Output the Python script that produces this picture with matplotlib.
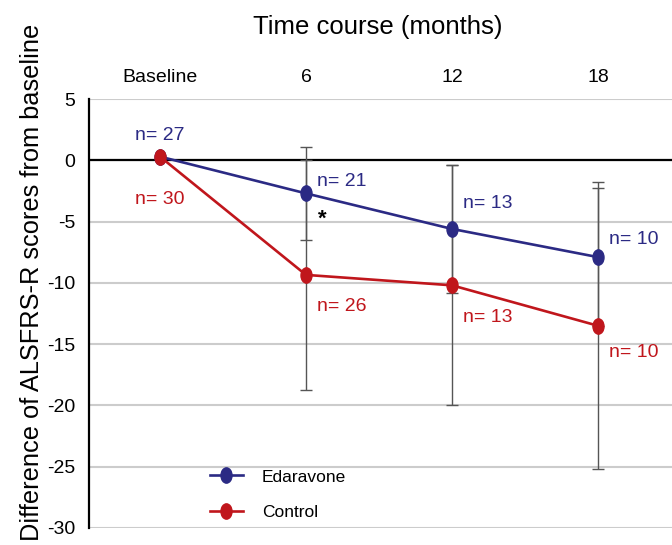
import numpy as np
import matplotlib.pyplot as plt
from matplotlib.markers import MarkerStyle
from matplotlib.transforms import Affine2D

plt.rcParams['font.family'] = ['Liberation Sans', 'DejaVu Sans']
plt.rcParams['axes.unicode_minus'] = False

# ======= data =======
timepoints = ['Baseline', '6', '12', '18']
edaravone_mean = [0.3, -2.7, -5.6, -7.9]
edaravone_sd = [0.0, 3.8, 5.2, 5.6]
control_mean = [0.3, -9.35, -10.2, -13.5]
control_sd = [0.0, 9.4, 9.8, 11.7]
edaravone_n = [27, 21, 13, 10]
control_n = [30, 26, 13, 10]

blue = '#2b2a84'
red = '#c0161c'
x = np.arange(len(timepoints))

fig = plt.figure(figsize=(6.72, 5.45), dpi=100)
ax = fig.add_axes([89 / 672, 1 - 528 / 545, 1 - 89 / 672, (528 - 99) / 545])

# grid
for yv in range(-30, 6, 5):
    ax.axhline(yv, color='#cccccc', lw=1.5, zorder=0)
ax.axhline(0, color='black', lw=1.6, zorder=1)

ell = MarkerStyle('o', transform=Affine2D().scale(0.72, 1.0))

# error bars (skip baseline)
ax.errorbar(x[1:], edaravone_mean[1:], yerr=edaravone_sd[1:], fmt='none',
            ecolor='#555555', elinewidth=1.0, capsize=4.5, capthick=1.0, zorder=2)
ax.errorbar(x[1:], control_mean[1:], yerr=control_sd[1:], fmt='none',
            ecolor='#555555', elinewidth=1.0, capsize=4.5, capthick=1.0, zorder=2)

ax.plot(x, edaravone_mean, color=blue, lw=1.9, marker=ell, ms=11,
        label='Edaravone', zorder=3)
ax.plot(x, control_mean, color=red, lw=1.9, marker=ell, ms=11,
        label='Control', zorder=4)

# n labels
fs = 14
ax.text(0, 2.0, 'n= %d' % edaravone_n[0], color=blue, fontsize=fs, ha='center', va='center')
ax.text(0, -3.2, 'n= %d' % control_n[0], color=red, fontsize=fs, ha='center', va='center')
blue_lab_y = [-1.7, -3.5, -6.5]
red_lab_y = [-11.9, -12.8, -15.7]
for i in range(1, 4):
    ax.text(x[i] + 0.075, blue_lab_y[i - 1], 'n= %d' % edaravone_n[i], color=blue,
            fontsize=fs, ha='left', va='center')
    ax.text(x[i] + 0.075, red_lab_y[i - 1], 'n= %d' % control_n[i], color=red,
            fontsize=fs, ha='left', va='center')
ax.text(1.115, -4.8, '*', fontsize=16, fontweight='bold', ha='center', va='center',
        color='black')

ax.set_xlim(-0.486, 3.507)
ax.set_ylim(-30, 5)
ax.set_yticks(range(-30, 6, 5))
ax.set_xticks(x)
ax.set_xticklabels(timepoints)
ax.xaxis.tick_top()
ax.tick_params(axis='x', length=0, pad=9, labelsize=14)
ax.tick_params(axis='y', length=0, pad=10, labelsize=14)
for s in ['top', 'right', 'bottom']:
    ax.spines[s].set_visible(False)
ax.spines['left'].set_linewidth(1.6)
ax.spines['left'].set_zorder(5)

leg = ax.legend(loc='center left', bbox_to_anchor=(0.2075, 0.078), frameon=False,
                fontsize=12.5, handlelength=1.9, handletextpad=1.1,
                labelspacing=1.15, borderpad=0, borderaxespad=0)

fig.text(378 / 672, 1 - 27 / 545, 'Time course (months)', fontsize=18.5,
         ha='center', va='center')
fig.text(32 / 672, 1 - 282 / 545, 'Difference of ALSFRS-R scores from baseline',
         fontsize=18.3, rotation=90, ha='center', va='center')

fig.savefig('out.png', dpi=100)
